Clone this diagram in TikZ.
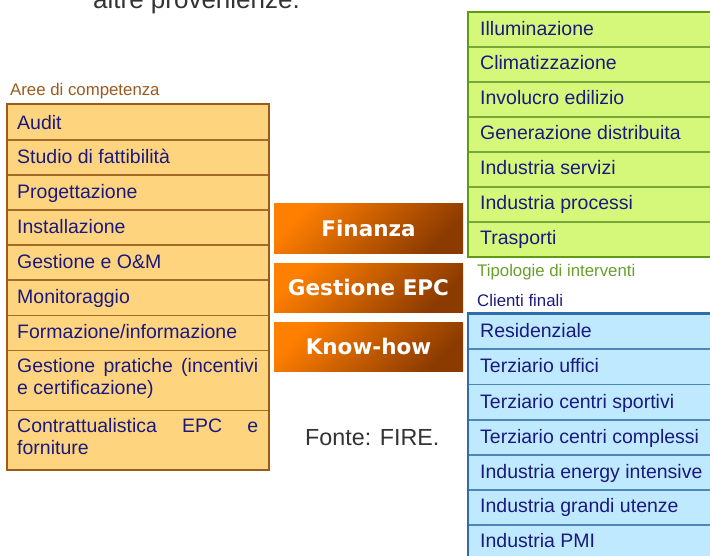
\documentclass[tikz,border=0pt]{standalone}
\usepackage{fontspec}
\setmainfont{Liberation Sans}
\newfontfamily\dejavu{DejaVu Sans}
\definecolor{lfill}{HTML}{FFD47F}
\definecolor{lborder}{HTML}{9C5B16}
\definecolor{lline}{HTML}{A36A28}
\definecolor{navy}{HTML}{1A1A7E}
\definecolor{areec}{HTML}{9C5A1E}
\definecolor{gfill}{HTML}{D5F87A}
\definecolor{gborder}{HTML}{5E9A14}
\definecolor{gtext}{HTML}{6A9E2A}
\definecolor{bfill}{HTML}{BFE9FF}
\definecolor{bborder}{HTML}{2F6CA8}
\definecolor{bline}{HTML}{4F86B8}
\definecolor{oA}{HTML}{FF7F00}
\definecolor{oB}{HTML}{8B3A00}
\definecolor{grayt}{HTML}{333333}
\begin{document}
\begin{tikzpicture}[x=1pt,y=-1pt,
  rowtext/.style={inner sep=0pt,anchor=base west,text=navy,font=\fontsize{19.5}{22}\selectfont},
  jtext/.style={rowtext,text width=241pt,align=justify},
  caption/.style={inner sep=0pt,anchor=base west,font=\fontsize{16.8}{20}\selectfont},
  obox/.style={shade,top color=oA,bottom color=oB,shading angle=45,minimum width=189pt,minimum height=49.5pt,
    text=white,font=\dejavu\bfseries\fontsize{21.5}{24}\selectfont,text height=15.7pt,text depth=0pt,inner sep=0pt}
]
\clip (0,0) rectangle (710,555);

% top clipped text
\node[inner sep=0pt,anchor=base west,text=grayt,font=\fontsize{26}{30}\selectfont] (top) at (93,8) {altre provenienze.};

% left table
\node[caption,text=areec] (areecap) at (10,95) {Aree di competenza};
\fill[lfill] (7,104) rectangle (269,470);
\foreach \y in {140,175,210,245,280,315.5,350.5,410.5}
  \draw[lline,line width=1.8pt] (7,\y) -- (269,\y);
\draw[lborder,line width=2.6pt] (7,104) rectangle (269,470);
\node[rowtext] (l1) at (17,129) {Audit};
\node[rowtext] (l2) at (17,163) {Studio di fattibilità};
\node[rowtext] (l3) at (17,198) {Progettazione};
\node[rowtext] (l4) at (17,233) {Installazione};
\node[rowtext] (l5) at (17,268) {Gestione e O\&M};
\node[rowtext] (l6) at (17,303.3) {Monitoraggio};
\node[rowtext] (l7) at (17,338.3) {Formazione/informazione};
\node[jtext] (l8) at (17,372.7) {Gestione pratiche (incentivi\linebreak e certificazione)};
\node[jtext] (l9) at (17,432.7) {Contrattualistica EPC e\linebreak forniture};

% orange boxes
\node[obox] (fin) at (368.5,228.5) {Finanza};
\node[obox] (epc) at (368.5,287.8) {Gestione EPC};
\node[obox] (know) at (368.5,346.8) {Know-how};

\node[inner sep=0pt,anchor=base west,text=grayt,font=\fontsize{23.3}{27}\selectfont] (fonte) at (305,445) {Fonte: FIRE.};

% green table
\fill[gfill] (468,12) rectangle (725,257);
\foreach \y in {47,82,117,152,187,222}
  \draw[gborder!85!white,line width=1.8pt] (468,\y) -- (725,\y);
\draw[gborder,line width=2.6pt] (468,12) rectangle (725,257);
\node[rowtext] (g1) at (480,35) {Illuminazione};
\node[rowtext] (g2) at (480,69.3) {Climatizzazione};
\node[rowtext] (g3) at (480,104.3) {Involucro edilizio};
\node[rowtext] (g4) at (480,139.3) {Generazione distribuita};
\node[rowtext] (g5) at (480,174.3) {Industria servizi};
\node[rowtext] (g6) at (480,209.3) {Industria processi};
\node[rowtext] (g7) at (480,244.3) {Trasporti};
\node[caption,text=gtext] (tipcap) at (477,276.7) {Tipologie di interventi};

% blue table
\node[caption,text=navy] (clicap) at (477,306.7) {Clienti finali};
\fill[bfill] (468,313.5) rectangle (725,565);
\foreach \y in {349,384.5,420,455,490,525}
  \draw[bline,line width=1.8pt] (468,\y) -- (725,\y);
\draw[bborder,line width=2.6pt] (468,313.5) rectangle (725,565);
\node[rowtext] (b1) at (480,337.3) {Residenziale};
\node[rowtext] (b2) at (480,372.7) {Terziario uffici};
\node[rowtext] (b3) at (480,408.3) {Terziario centri sportivi};
\node[rowtext] (b4) at (480,443.3) {Terziario centri complessi};
\node[rowtext] (b5) at (480,478) {Industria energy intensive};
\node[rowtext] (b6) at (480,512.7) {Industria grandi utenze};
\node[rowtext] (b7) at (480,547.7) {Industria PMI};
\end{tikzpicture}
\end{document}
